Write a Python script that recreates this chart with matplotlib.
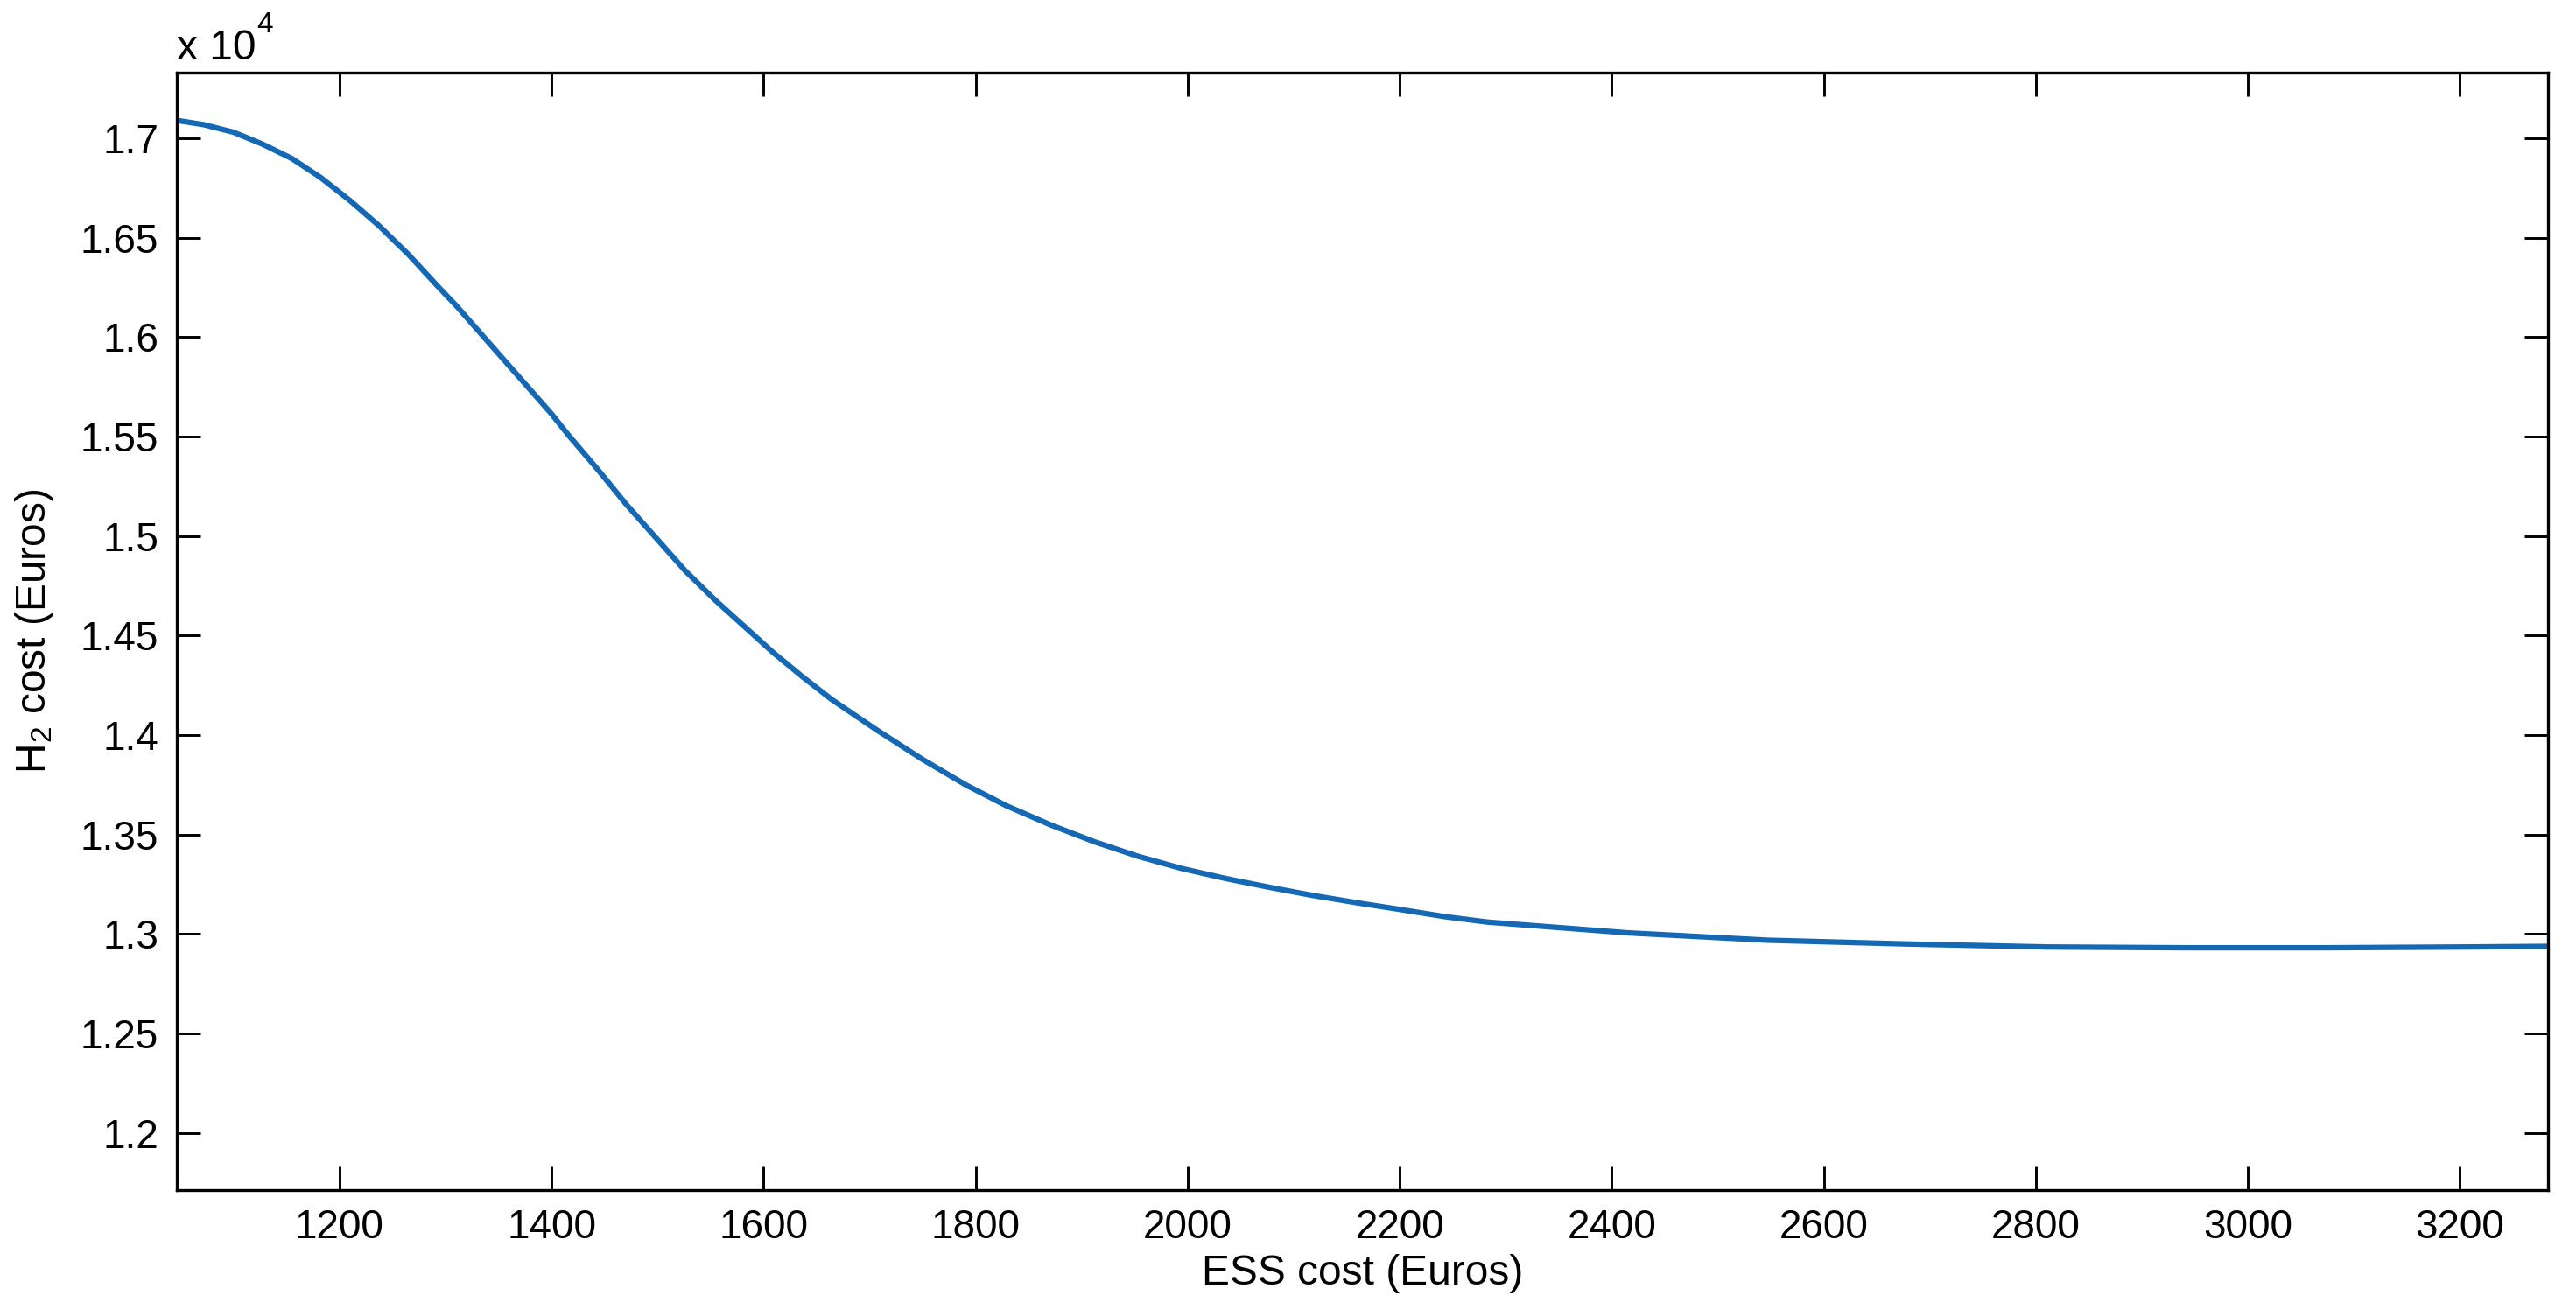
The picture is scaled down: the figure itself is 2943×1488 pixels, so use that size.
import matplotlib
matplotlib.use("Agg")
import matplotlib.pyplot as plt
from matplotlib.ticker import FuncFormatter

plt.rcParams['font.family'] = ['Liberation Sans', 'DejaVu Sans']
plt.rcParams['mathtext.fontset'] = 'custom'
plt.rcParams['mathtext.rm'] = 'Liberation Sans'
plt.rcParams['mathtext.it'] = 'Liberation Sans'

# ESS cost (Euros) vs H2 cost (Euros)
ess_cost = [1047, 1072, 1100, 1127, 1155, 1182, 1210, 1237, 1265, 1293,
            1310, 1361, 1400, 1416, 1444, 1471, 1499, 1526, 1554, 1581,
            1609, 1637, 1664, 1707, 1749, 1791, 1829, 1871, 1912, 1953,
            1994, 2036, 2077, 2118, 2160, 2201, 2242, 2283, 2415, 2547,
            2679, 2810, 2942, 3073, 3205, 3283]
h2_cost = [17090, 17069, 17031, 16972, 16899, 16804, 16687, 16562, 16416, 16254,
           16159, 15850, 15614, 15507, 15332, 15156, 14988, 14826, 14680, 14550,
           14415, 14292, 14180, 14025, 13881, 13749, 13645, 13548, 13464, 13391,
           13330, 13279, 13235, 13194, 13157, 13123, 13088, 13060, 13006, 12969,
           12950, 12935, 12931, 12931, 12935, 12938]

x_ticks = [1200, 1400, 1600, 1800, 2000, 2200, 2400, 2600, 2800, 3000, 3200]
y_ticks = [12000, 12500, 13000, 13500, 14000, 14500, 15000, 15500, 16000, 16500, 17000]

fig = plt.figure(figsize=(9.81, 4.96), dpi=300)
ax = fig.add_axes([0.0686, 0.0862, 0.9205, 0.8578])

ax.plot(ess_cost, h2_cost, color='#1569B4', linewidth=1.5)

ax.set_xlim(1046.4, 3283)
ax.set_ylim(11714, 17329)
ax.set_xticks(x_ticks)
ax.set_yticks(y_ticks)
ax.yaxis.set_major_formatter(FuncFormatter(lambda v, p: '%g' % (v / 1e4)))

ax.tick_params(direction='in', length=6.4, width=0.7, labelsize=11,
               top=True, right=True, pad=5)
for s in ax.spines.values():
    s.set_linewidth(0.8)

ax.set_xlabel('ESS cost (Euros)', fontsize=11.5, labelpad=2)
ax.set_ylabel('H$_2$ cost (Euros)', fontsize=11.5)
ax.yaxis.set_label_coords(-0.051, 0.5)

# multiplier at the top-left, MATLAB style
ax.text(0.0, 1.012, 'x 10', transform=ax.transAxes,
        fontsize=11.5, ha='left', va='baseline')
ax.text(0.0336, 1.036, '4', transform=ax.transAxes,
        fontsize=8, ha='left', va='baseline')

fig.savefig('out.png', dpi=300)
